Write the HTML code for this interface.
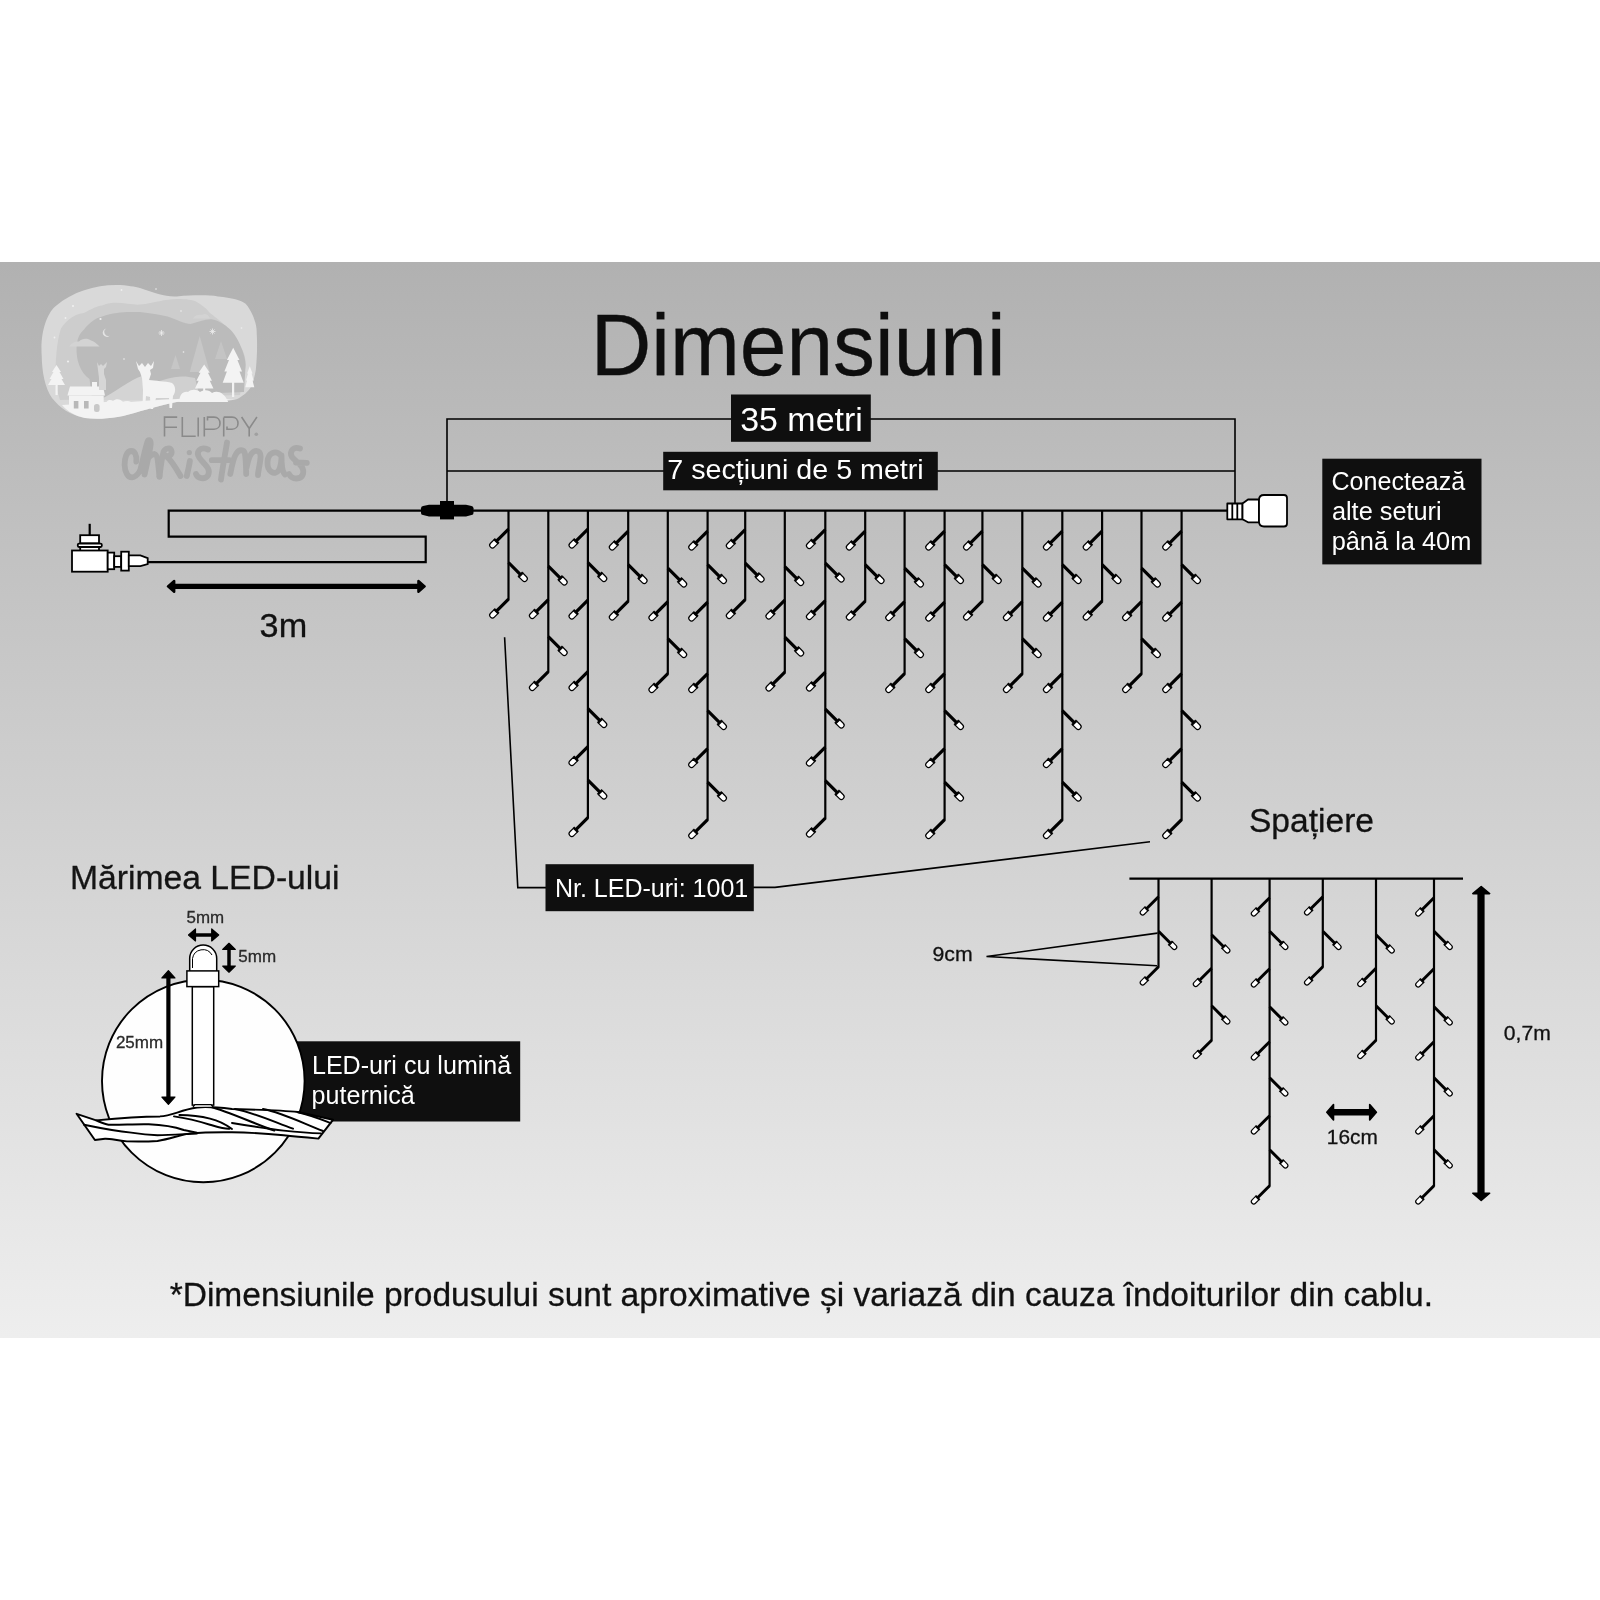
<!DOCTYPE html>
<html><head><meta charset="utf-8"><title>Dimensiuni</title>
<style>
html,body{margin:0;padding:0;background:#fff;width:1600px;height:1600px;overflow:hidden}
svg{display:block;filter:grayscale(1)}
text{font-family:"Liberation Sans",sans-serif}
.w{stroke:#000;stroke-width:2.2;fill:none}
.t{stroke:#000;stroke-width:1.6;fill:none}
</style></head><body>
<svg width="1600" height="1600" viewBox="0 0 1600 1600">
<defs>
<linearGradient id="bg" x1="0" y1="0" x2="0" y2="1">
<stop offset="0" stop-color="#b1b1b1"/><stop offset="1" stop-color="#eeeeee"/>
</linearGradient>
<g id="led">
<line x1="0" y1="0" x2="17" y2="0" stroke="#000" stroke-width="3.2"/>
<rect x="16" y="-3.3" width="2.1" height="6.6" fill="#000"/>
<path d="M17.8,-2.75 H22.7 A2.75,2.75 0 0 1 22.7,2.75 H17.8 Z" fill="#fff" stroke="#000" stroke-width="1.2"/>
</g>
<g id="led2">
<line x1="0" y1="0" x2="17" y2="0" stroke="#000" stroke-width="3"/>
<rect x="16" y="-3" width="2" height="6" fill="#000"/>
<path d="M17.6,-2.4 H22.4 A2.4,2.4 0 0 1 22.4,2.4 H17.6 Z" fill="#fff" stroke="#000" stroke-width="1.15"/>
</g>
</defs>
<rect x="0" y="262" width="1600" height="1076" fill="url(#bg)"/>

<g id="logo">
<path d="M41.7,356 C40,330 48,312 56.4,305.6 C72,292 95,285 116,285 C128,285 135,287 140,288 C155,293 165,297 176.7,296.4 C195,295 208,295 218,296.4 C232,298 241,300 245.6,303.7 C253,312 257,325 256.7,333 C257.5,345 257,358 255.8,369.9 C254,380 252,385 250.2,388.2 C246,394 241,397 236.5,399.3 L227.3,401 C210,401.5 190,401.5 176.7,402 C160,405 150,409 140,411.2 C120,418 100,420 85,418 C70,415 60,408 52,398 C45,388 42,372 41.7,356 Z" fill="#d9d9d9"/>
<path d="M55.5,385 C55,360 57,340 61,328.5 C68,318 76,314 84,313 C92,309 97,306 102,305.6 C108,303 112,302.8 116,302.8 C125,303 133,305 140,304.6 C155,303 165,299 176.7,299 C187,299 192,300 195,301 C201,304 206,308 209,312 C215,318 230,325 241,347 C245,355 246,360 245.6,365.3 L240,395 L60,400 Z" fill="#cdcdcd"/>
<path d="M89.5,379 C80,372 76,360 76.6,347 C77,338 80,333 84,329.5 C90,322 96,318 102.3,316.6 C112,313 122,312 130,312 C135,312 138,312 140,312 C150,313 160,315 167.6,316.6 C177,320 185,324 190.5,324 C198,322 205,319 211.7,319.3 C220,321 227,326 231.9,331.3 C236,336 239,342 241,347 C244,354 245.5,360 245.6,365.3 L244,392 L92,398 Z" fill="#bbbbbb"/>
<path d="M69,346.5 C72,342 76,341 79,341.5 C82,338 88,338 91,340.5 C94,341 96,343 99.6,346.5 Z" fill="#d3d3d3"/>
<path d="M193,318.4 C195,315 199,314.5 202,315 C205,313 208,314 210,318.4 Z" fill="#d3d3d3"/>
<path d="M199.7,336 L209.7,372 L189.7,372 Z" fill="#c7c7c7"/>
<path d="M221,341 L227.0,359 L215.0,359 Z" fill="#c4c4c4"/>
<path d="M175.5,355 L180.0,369 L171.0,369 Z" fill="#c6c6c6"/>
<path d="M100,400 C115,392 130,380 142,376 L150,400 Z" fill="#d4d4d4"/>
<path d="M150,385 C165,378 180,374 195,378 L200,398 L150,400 Z" fill="#d0d0d0"/>
<path d="M62,405 C90,403 110,401 130,402 C150,401 175,398 200,399 C215,399 228,399 236.5,399.3 C220,401 195,401 176.7,402 C160,405 150,409 140,411.2 C120,418 100,420 85,418 C75,416 67,411 62,405 Z" fill="#f3f3f3"/>
<path d="M56.5,365 L61,372 L59.5,372 L63.5,379 L61.5,379 L65,385 L48,385 L51.5,379 L49.5,379 L53.5,372 L52,372 Z" fill="#f3f3f3"/><rect x="55.5" y="384" width="2.2" height="11" fill="#f3f3f3"/>
<path d="M233.2,347.8 L239.5,360.05 L237.39999999999998,360.05 L242.01999999999998,371.6 L239.5,371.6 L243.7,382.8 L222.7,382.8 L226.89999999999998,371.6 L224.38,371.6 L229.0,360.05 L226.89999999999998,360.05 Z" fill="#f3f3f3"/>
<rect x="232" y="380" width="2.2" height="17" fill="#f3f3f3"/>
<path d="M204.2,364.4 L209.75,372.79999999999995 L207.89999999999998,372.79999999999995 L211.97,380.71999999999997 L209.75,380.71999999999997 L213.45,388.4 L194.95,388.4 L198.64999999999998,380.71999999999997 L196.42999999999998,380.71999999999997 L200.5,372.79999999999995 L198.64999999999998,372.79999999999995 Z" fill="#f3f3f3"/>
<rect x="203.2" y="386" width="2" height="10" fill="#f3f3f3"/>
<path d="M249.8,366.2 L252.5,373.55 L251.60000000000002,373.55 L253.58,380.48 L252.5,380.48 L254.3,387.2 L245.3,387.2 L247.10000000000002,380.48 L246.02,380.48 L248.0,373.55 L247.10000000000002,373.55 Z" fill="#f3f3f3"/>
<path d="M179.5,402 C179,395 183,391 188,392 C191,389 197,389 200,392 C204,389 210,390 212,393 C217,390 224,392 228.2,402 Z" fill="#f3f3f3"/>
<path d="M105,406 C106,400 110,399 113,401 C116,398 121,399 123,402 C127,400 132,401 134,405 Z" fill="#f3f3f3"/>
<path d="M67.4,395.6 L70,386.5 L103,386.5 L105,395.6 Z" fill="#f3f3f3"/><rect x="69" y="395.6" width="34.7" height="15.7" fill="#f3f3f3"/><rect x="92" y="382" width="5" height="5" fill="#f3f3f3"/>
<rect x="73.8" y="401" width="4.6" height="7.5" fill="#b8b8b8"/><rect x="84" y="401" width="4.6" height="7.5" fill="#b8b8b8"/><rect x="94" y="404" width="5.6" height="8" rx="2.5" fill="#c8c8c8"/>
<path d="M97,362 L99,366 L101,364 L103,366 L105,364 L107,362 L106,367 L104,369 L104,374 L106,380 L106,390 L99,390 L99,378 L98,370 Z" fill="#d6d6d6"/>
<path d="M136,361 L139,366 L142,363 L145,367 L148,363 L151,366 L154,361 L153,368 L150,370 L151,374 L149,380 C155,381 165,381 172,383 C176,386 176,392 173,396 L172,408 L169.5,408 L169,398 L156,398 L153,409 L150.5,409 L150,397 L146,396 L145,409 L142.5,409 L143,390 L142,378 L140,372 L138,369 Z" fill="#f3f3f3"/>
<path d="M106.5,328.5 a4.2,4.2 0 1 0 3.5,7 a3.4,3.4 0 1 1 -3.5,-7 Z" fill="#e4e4e4"/>
<circle cx="121.5" cy="290" r="0.9" fill="#efefef"/>
<circle cx="65.5" cy="318" r="0.9" fill="#efefef"/>
<circle cx="54.5" cy="337.5" r="0.9" fill="#efefef"/>
<circle cx="68" cy="361.5" r="1.1" fill="#efefef"/>
<circle cx="100.5" cy="319" r="1.1" fill="#efefef"/>
<circle cx="124" cy="359" r="0.8" fill="#efefef"/>
<circle cx="181" cy="311" r="0.8" fill="#efefef"/>
<circle cx="241.5" cy="328" r="0.8" fill="#efefef"/>
<circle cx="183.5" cy="352" r="0.8" fill="#efefef"/>
<circle cx="156" cy="289" r="0.8" fill="#efefef"/>
<circle cx="73" cy="306" r="1.1" fill="#efefef"/>
<path d="M158.5,333 H164.5 M161.5,330 V336 M159.5,331 L163.5,335 M159.5,335 L163.5,331" stroke="#ececec" stroke-width="0.8"/>
<path d="M209.5,331.5 H215.5 M212.5,328.5 V334.5 M210.5,329.5 L214.5,333.5 M210.5,333.5 L214.5,329.5" stroke="#ececec" stroke-width="0.8"/>
</g>
<g stroke="#8a8a8a" stroke-width="1.6" fill="none">
<path d="M164.5,436.5 V417.1 H177.2 M164.5,427.3 H177"/>
<path d="M182.3,417 V436.2 H195.7"/>
<path d="M198.2,417.4 V436.5"/>
<path d="M204.3,417 V436.5 M207.5,420.5 V417.1 H214 C222,417.1 222,429.2 214,429.2 H204.5"/>
<path d="M223.7,417.4 V436.5 M227,426.5 V429.2 H232 C240,429.2 240,417.1 232,417.1 H223.7"/>
<path d="M241.6,417 L249.2,428.5 L256.9,417 M249.2,428.5 V436.5"/>
</g><circle cx="256.3" cy="434.3" r="1.8" fill="#a0a0a0"/>
<g stroke="#a9a9a9" stroke-width="5.8" fill="none" stroke-linecap="round" stroke-linejoin="round">
<path d="M136.3,461.5 C137,455 134.5,450.8 131,451 C126.5,451.5 124.5,458 124.6,465 C124.8,472 128,477.6 132.2,477.4 C135.5,477.2 138,474 140,471"/>
<path d="M140,471 C142.5,462 145,449 147.6,441.5 C148.8,438.8 151.2,440 150.6,445 C149.8,452 147,463 144.6,474.5 M145.4,463 C148,457.5 151,454 154.6,454 C157.8,454.5 158.2,465 159.5,476.5"/>
<path d="M159.5,476.5 C160.5,468 161.5,459 163.5,452 C165,448 170.5,447 171.5,451 C172.3,455 168,457.5 165.5,455.5 C170,459 176,468 180.5,476"/>
<path d="M189.9,461 C189,467 187.5,472 186.8,476"/>
<path d="M208,449.5 C200,446 195.5,452 199.5,458 C203.5,464 211.5,468 208,475.5 C204.5,480 197.5,478.5 196,474"/>
<path d="M227,442.5 C225,455 222.5,468 221,479.5 M211.8,460.2 H229.5"/>
<path d="M230.3,474 C232,465 234,457 236,454 C239,449 244,449 245,454 C246,460 246,468 246.2,474 M246.5,468 C248,460 251,452 255,451 C259,450 261,453 260.5,458 C260,465 258,471 258,475"/>
<path d="M281,455.5 C276,450 268,452 267.5,462 C267,472 275,476 279,470 C281,466 281.5,458 281.5,455.5 C281.5,465 282,472 285,474.5"/>
<path d="M300,448.5 C293,446 289,452 292,457 C296,462 305,466 303,474 C301,480 292,480 289,474 M296,462.5 L306.8,462.8"/>
</g>
<circle cx="189.3" cy="452.6" r="2.6" fill="#a9a9a9"/>
<text x="590.82" y="374.80" font-size="87" textLength="414.73" lengthAdjust="spacingAndGlyphs" fill="#0e0e0e" stroke="#0e0e0e" stroke-width="0.3">Dimensiuni</text>
<path d="M447,510 V419 H1235 V503" class="t" stroke-width="2.2"/>
<path d="M447,471 H1235" class="t" stroke-width="2.2"/>
<rect x="731" y="394.5" width="139.8" height="47.3" fill="#0f0f11"/>
<text x="740.21" y="430.50" font-size="34" textLength="122.58" lengthAdjust="spacingAndGlyphs" fill="#fff">35 metri</text>
<rect x="663.2" y="451.8" width="274.6" height="38.5" fill="#0f0f11"/>
<text x="667.28" y="479.00" font-size="28.5" textLength="256.45" lengthAdjust="spacingAndGlyphs" fill="#fff">7 secțiuni de 5 metri</text>
<path d="M1228,510.6 H168.7 V536.7 H425.7 V562.2 H147" class="w"/>
<path d="M421,508.3 Q421,506.6 423,506.1 L429,504.8 H466 L471.5,506.1 Q473.5,506.6 473.5,508.3 V512.9 Q473.5,514.6 471.5,515.1 L466,516.4 H429 L423,515.1 Q421,514.6 421,512.9 Z" fill="#000"/>
<rect x="440" y="501" width="14" height="18.4" fill="#000"/>
<g fill="#fff" stroke="#000" stroke-width="1.8" stroke-linejoin="miter">
<line x1="89.7" y1="523.8" x2="89.7" y2="535.5" stroke-width="2.2"/>
<rect x="80.2" y="535.2" width="18.8" height="8.1"/>
<rect x="80.2" y="546.5" width="18.8" height="4.5"/>
<rect x="77.8" y="543.6" width="24" height="3.4" rx="1.2"/>
<rect x="72" y="550.5" width="35.7" height="21.2"/>
<rect x="107.7" y="552.6" width="6.5" height="16.6"/>
<rect x="114.2" y="556.2" width="7" height="10.7"/>
<rect x="121.2" y="551.7" width="7.6" height="18.9"/>
<path d="M128.8,555.4 H140.4 L147.7,558.2 V564.1 L140.4,566.1 H128.8 Z"/>
</g>
<path d="M174,586.4 H418" stroke="#000" stroke-width="5.2"/>
<path d="M168,586.4 L174.2,581 L174.2,591.8 Z M424.6,586.4 L418.4,581 L418.4,591.8 Z" fill="#000" stroke="#000" stroke-width="2.4" stroke-linejoin="round"/>
<text x="259.60" y="636.70" font-size="34" textLength="47.56" lengthAdjust="spacingAndGlyphs" fill="#111" stroke="#111" stroke-width="0.3">3m</text>
<g fill="#fff" stroke="#000" stroke-width="1.8" stroke-linejoin="round">
<rect x="1227.3" y="503.5" width="15.2" height="15.8"/>
<line x1="1232.3" y1="503.5" x2="1232.3" y2="519.3"/><line x1="1237.3" y1="503.5" x2="1237.3" y2="519.3"/>
<path d="M1242.5,503.5 L1248,499.5 H1259 V522.3 H1248 L1242.5,519.3 Z"/>
<path d="M1264,495 H1284 Q1287,495 1287,498 V523.5 Q1287,526.5 1284,526.5 H1264 Q1259,526.5 1259,521.5 V500 Q1259,495 1264,495 Z"/>
</g>
<rect x="1322.3" y="458.7" width="159.2" height="105.7" fill="#0f0f11"/>
<text x="1331.48" y="490.00" font-size="25.3" textLength="133.82" lengthAdjust="spacingAndGlyphs" fill="#fff">Conectează</text>
<text x="1331.92" y="520.00" font-size="25.3" textLength="109.78" lengthAdjust="spacingAndGlyphs" fill="#fff">alte seturi</text>
<text x="1331.67" y="550.10" font-size="25.3" textLength="139.61" lengthAdjust="spacingAndGlyphs" fill="#fff">până la 40m</text>
<line x1="508.50" y1="510.60" x2="508.50" y2="599.90" class="w"/>
<use href="#led" transform="translate(508.50,529.10) rotate(135)"/>
<use href="#led" transform="translate(508.50,562.60) rotate(45)"/>
<use href="#led" transform="translate(508.50,599.10) rotate(135)"/>
<line x1="548.30" y1="510.60" x2="548.30" y2="672.40" class="w"/>
<use href="#led" transform="translate(548.30,566.10) rotate(45)"/>
<use href="#led" transform="translate(548.30,599.60) rotate(135)"/>
<use href="#led" transform="translate(548.30,636.60) rotate(45)"/>
<use href="#led" transform="translate(548.30,671.60) rotate(135)"/>
<line x1="587.90" y1="510.60" x2="587.90" y2="818.40" class="w"/>
<use href="#led" transform="translate(587.90,529.10) rotate(135)"/>
<use href="#led" transform="translate(587.90,562.60) rotate(45)"/>
<use href="#led" transform="translate(587.90,600.10) rotate(135)"/>
<use href="#led" transform="translate(587.90,671.60) rotate(135)"/>
<use href="#led" transform="translate(587.90,708.60) rotate(45)"/>
<use href="#led" transform="translate(587.90,746.60) rotate(135)"/>
<use href="#led" transform="translate(587.90,780.10) rotate(45)"/>
<use href="#led" transform="translate(587.90,817.60) rotate(135)"/>
<line x1="628.20" y1="510.60" x2="628.20" y2="601.90" class="w"/>
<use href="#led" transform="translate(628.20,531.10) rotate(135)"/>
<use href="#led" transform="translate(628.20,564.60) rotate(45)"/>
<use href="#led" transform="translate(628.20,601.10) rotate(135)"/>
<line x1="667.80" y1="510.60" x2="667.80" y2="674.40" class="w"/>
<use href="#led" transform="translate(667.80,568.10) rotate(45)"/>
<use href="#led" transform="translate(667.80,601.60) rotate(135)"/>
<use href="#led" transform="translate(667.80,638.60) rotate(45)"/>
<use href="#led" transform="translate(667.80,673.60) rotate(135)"/>
<line x1="707.60" y1="510.60" x2="707.60" y2="820.40" class="w"/>
<use href="#led" transform="translate(707.60,531.10) rotate(135)"/>
<use href="#led" transform="translate(707.60,564.60) rotate(45)"/>
<use href="#led" transform="translate(707.60,602.10) rotate(135)"/>
<use href="#led" transform="translate(707.60,673.60) rotate(135)"/>
<use href="#led" transform="translate(707.60,710.60) rotate(45)"/>
<use href="#led" transform="translate(707.60,748.60) rotate(135)"/>
<use href="#led" transform="translate(707.60,782.10) rotate(45)"/>
<use href="#led" transform="translate(707.60,819.60) rotate(135)"/>
<line x1="745.20" y1="510.60" x2="745.20" y2="600.40" class="w"/>
<use href="#led" transform="translate(745.20,529.60) rotate(135)"/>
<use href="#led" transform="translate(745.20,563.10) rotate(45)"/>
<use href="#led" transform="translate(745.20,599.60) rotate(135)"/>
<line x1="784.80" y1="510.60" x2="784.80" y2="672.90" class="w"/>
<use href="#led" transform="translate(784.80,566.60) rotate(45)"/>
<use href="#led" transform="translate(784.80,600.10) rotate(135)"/>
<use href="#led" transform="translate(784.80,637.10) rotate(45)"/>
<use href="#led" transform="translate(784.80,672.10) rotate(135)"/>
<line x1="825.30" y1="510.60" x2="825.30" y2="818.90" class="w"/>
<use href="#led" transform="translate(825.30,529.60) rotate(135)"/>
<use href="#led" transform="translate(825.30,563.10) rotate(45)"/>
<use href="#led" transform="translate(825.30,600.60) rotate(135)"/>
<use href="#led" transform="translate(825.30,672.10) rotate(135)"/>
<use href="#led" transform="translate(825.30,709.10) rotate(45)"/>
<use href="#led" transform="translate(825.30,747.10) rotate(135)"/>
<use href="#led" transform="translate(825.30,780.60) rotate(45)"/>
<use href="#led" transform="translate(825.30,818.10) rotate(135)"/>
<line x1="865.20" y1="510.60" x2="865.20" y2="601.90" class="w"/>
<use href="#led" transform="translate(865.20,531.10) rotate(135)"/>
<use href="#led" transform="translate(865.20,564.60) rotate(45)"/>
<use href="#led" transform="translate(865.20,601.10) rotate(135)"/>
<line x1="904.60" y1="510.60" x2="904.60" y2="674.40" class="w"/>
<use href="#led" transform="translate(904.60,568.10) rotate(45)"/>
<use href="#led" transform="translate(904.60,601.60) rotate(135)"/>
<use href="#led" transform="translate(904.60,638.60) rotate(45)"/>
<use href="#led" transform="translate(904.60,673.60) rotate(135)"/>
<line x1="944.60" y1="510.60" x2="944.60" y2="820.40" class="w"/>
<use href="#led" transform="translate(944.60,531.10) rotate(135)"/>
<use href="#led" transform="translate(944.60,564.60) rotate(45)"/>
<use href="#led" transform="translate(944.60,602.10) rotate(135)"/>
<use href="#led" transform="translate(944.60,673.60) rotate(135)"/>
<use href="#led" transform="translate(944.60,710.60) rotate(45)"/>
<use href="#led" transform="translate(944.60,748.60) rotate(135)"/>
<use href="#led" transform="translate(944.60,782.10) rotate(45)"/>
<use href="#led" transform="translate(944.60,819.60) rotate(135)"/>
<line x1="982.40" y1="510.60" x2="982.40" y2="601.90" class="w"/>
<use href="#led" transform="translate(982.40,531.10) rotate(135)"/>
<use href="#led" transform="translate(982.40,564.60) rotate(45)"/>
<use href="#led" transform="translate(982.40,601.10) rotate(135)"/>
<line x1="1022.30" y1="510.60" x2="1022.30" y2="674.40" class="w"/>
<use href="#led" transform="translate(1022.30,568.10) rotate(45)"/>
<use href="#led" transform="translate(1022.30,601.60) rotate(135)"/>
<use href="#led" transform="translate(1022.30,638.60) rotate(45)"/>
<use href="#led" transform="translate(1022.30,673.60) rotate(135)"/>
<line x1="1062.30" y1="510.60" x2="1062.30" y2="820.40" class="w"/>
<use href="#led" transform="translate(1062.30,531.10) rotate(135)"/>
<use href="#led" transform="translate(1062.30,564.60) rotate(45)"/>
<use href="#led" transform="translate(1062.30,602.10) rotate(135)"/>
<use href="#led" transform="translate(1062.30,673.60) rotate(135)"/>
<use href="#led" transform="translate(1062.30,710.60) rotate(45)"/>
<use href="#led" transform="translate(1062.30,748.60) rotate(135)"/>
<use href="#led" transform="translate(1062.30,782.10) rotate(45)"/>
<use href="#led" transform="translate(1062.30,819.60) rotate(135)"/>
<line x1="1102.10" y1="510.60" x2="1102.10" y2="601.90" class="w"/>
<use href="#led" transform="translate(1102.10,531.10) rotate(135)"/>
<use href="#led" transform="translate(1102.10,564.60) rotate(45)"/>
<use href="#led" transform="translate(1102.10,601.10) rotate(135)"/>
<line x1="1141.50" y1="510.60" x2="1141.50" y2="674.40" class="w"/>
<use href="#led" transform="translate(1141.50,568.10) rotate(45)"/>
<use href="#led" transform="translate(1141.50,601.60) rotate(135)"/>
<use href="#led" transform="translate(1141.50,638.60) rotate(45)"/>
<use href="#led" transform="translate(1141.50,673.60) rotate(135)"/>
<line x1="1181.60" y1="510.60" x2="1181.60" y2="820.40" class="w"/>
<use href="#led" transform="translate(1181.60,531.10) rotate(135)"/>
<use href="#led" transform="translate(1181.60,564.60) rotate(45)"/>
<use href="#led" transform="translate(1181.60,602.10) rotate(135)"/>
<use href="#led" transform="translate(1181.60,673.60) rotate(135)"/>
<use href="#led" transform="translate(1181.60,710.60) rotate(45)"/>
<use href="#led" transform="translate(1181.60,748.60) rotate(135)"/>
<use href="#led" transform="translate(1181.60,782.10) rotate(45)"/>
<use href="#led" transform="translate(1181.60,819.60) rotate(135)"/>
<path d="M504.6,637.2 L517.8,887.6 H546 M753 887.4 H775 L1150,841.8" class="t" stroke-width="1.6"/>
<rect x="545.5" y="864.2" width="208.3" height="47" fill="#0f0f11"/>
<text x="554.96" y="896.75" font-size="25" textLength="193.25" lengthAdjust="spacingAndGlyphs" fill="#fff">Nr. LED-uri: 1001</text>
<text x="1248.98" y="832.40" font-size="33.5" textLength="125.02" lengthAdjust="spacingAndGlyphs" fill="#111" stroke="#111" stroke-width="0.3">Spațiere</text>
<path d="M1129.4,878.7 H1463" class="w" stroke-width="2.4"/>
<line x1="1158.50" y1="878.70" x2="1158.50" y2="967.50" class="w"/>
<use href="#led2" transform="translate(1158.50,896.70) rotate(135)"/>
<use href="#led2" transform="translate(1158.50,931.20) rotate(45)"/>
<use href="#led2" transform="translate(1158.50,966.70) rotate(135)"/>
<line x1="1211.60" y1="878.70" x2="1211.60" y2="1041.00" class="w"/>
<use href="#led2" transform="translate(1211.60,934.70) rotate(45)"/>
<use href="#led2" transform="translate(1211.60,968.20) rotate(135)"/>
<use href="#led2" transform="translate(1211.60,1005.70) rotate(45)"/>
<use href="#led2" transform="translate(1211.60,1040.20) rotate(135)"/>
<line x1="1269.60" y1="878.70" x2="1269.60" y2="1186.50" class="w"/>
<use href="#led2" transform="translate(1269.60,897.70) rotate(135)"/>
<use href="#led2" transform="translate(1269.60,931.20) rotate(45)"/>
<use href="#led2" transform="translate(1269.60,968.70) rotate(135)"/>
<use href="#led2" transform="translate(1269.60,1006.70) rotate(45)"/>
<use href="#led2" transform="translate(1269.60,1041.70) rotate(135)"/>
<use href="#led2" transform="translate(1269.60,1077.70) rotate(45)"/>
<use href="#led2" transform="translate(1269.60,1115.70) rotate(135)"/>
<use href="#led2" transform="translate(1269.60,1149.70) rotate(45)"/>
<use href="#led2" transform="translate(1269.60,1185.70) rotate(135)"/>
<line x1="1322.80" y1="878.70" x2="1322.80" y2="967.50" class="w"/>
<use href="#led2" transform="translate(1322.80,896.70) rotate(135)"/>
<use href="#led2" transform="translate(1322.80,931.20) rotate(45)"/>
<use href="#led2" transform="translate(1322.80,966.70) rotate(135)"/>
<line x1="1376.00" y1="878.70" x2="1376.00" y2="1041.00" class="w"/>
<use href="#led2" transform="translate(1376.00,934.70) rotate(45)"/>
<use href="#led2" transform="translate(1376.00,968.20) rotate(135)"/>
<use href="#led2" transform="translate(1376.00,1005.70) rotate(45)"/>
<use href="#led2" transform="translate(1376.00,1040.20) rotate(135)"/>
<line x1="1434.00" y1="878.70" x2="1434.00" y2="1186.50" class="w"/>
<use href="#led2" transform="translate(1434.00,897.70) rotate(135)"/>
<use href="#led2" transform="translate(1434.00,931.20) rotate(45)"/>
<use href="#led2" transform="translate(1434.00,968.70) rotate(135)"/>
<use href="#led2" transform="translate(1434.00,1006.70) rotate(45)"/>
<use href="#led2" transform="translate(1434.00,1041.70) rotate(135)"/>
<use href="#led2" transform="translate(1434.00,1077.70) rotate(45)"/>
<use href="#led2" transform="translate(1434.00,1115.70) rotate(135)"/>
<use href="#led2" transform="translate(1434.00,1149.70) rotate(45)"/>
<use href="#led2" transform="translate(1434.00,1185.70) rotate(135)"/>
<path d="M1157.5,933.1 L986.5,956.5 L1157,965.7" class="t" stroke-width="1.5" stroke-linejoin="miter"/>
<text x="932.50" y="960.50" font-size="21" textLength="40.15" lengthAdjust="spacingAndGlyphs" fill="#111" stroke="#111" stroke-width="0.3">9cm</text>
<path d="M1481,893 V1193" stroke="#000" stroke-width="7.2"/>
<path d="M1481.2,886.5 L1489.6,893.6 L1472.8,893.6 Z M1481.2,1200.3 L1489.6,1193.2 L1472.8,1193.2 Z" fill="#000" stroke="#000" stroke-width="1.6" stroke-linejoin="round"/>
<text x="1503.87" y="1039.60" font-size="20.5" textLength="47.02" lengthAdjust="spacingAndGlyphs" fill="#111" stroke="#111" stroke-width="0.3">0,7m</text>
<path d="M1333,1112.3 H1370" stroke="#000" stroke-width="6.6"/>
<path d="M1326.8,1112.3 L1333.5,1104.6 L1333.5,1120 Z M1376.4,1112.3 L1369.7,1104.6 L1369.7,1120 Z" fill="#000" stroke="#000" stroke-width="1.6" stroke-linejoin="round"/>
<text x="1326.81" y="1144.00" font-size="20.5" textLength="50.96" lengthAdjust="spacingAndGlyphs" fill="#111" stroke="#111" stroke-width="0.3">16cm</text>
<text x="69.94" y="889.40" font-size="33.5" textLength="269.63" lengthAdjust="spacingAndGlyphs" fill="#151515" stroke="#151515" stroke-width="0.3">Mărimea LED-ului</text>
<rect x="290" y="1041.3" width="230.2" height="80.2" fill="#0f0f11"/>
<text x="311.94" y="1073.50" font-size="25" textLength="199.31" lengthAdjust="spacingAndGlyphs" fill="#fff">LED-uri cu lumină</text>
<text x="311.63" y="1103.50" font-size="25" textLength="103.17" lengthAdjust="spacingAndGlyphs" fill="#fff">puternică</text>
<circle cx="203.3" cy="1081" r="101.3" fill="#fefefe" stroke="#000" stroke-width="1.9"/>
<g fill="#fff" stroke="#000" stroke-width="1.5">
<rect x="192.3" y="986.6" width="21.4" height="118.5"/>
<path d="M189.7,971 V958.5 A13.5,13.5 0 0 1 216.7,958.5 V971"/>
<rect x="186.9" y="970.9" width="31.8" height="15.7"/>
<path d="M192.5,968 V958.5 A10.5,10.5 0 0 1 212,955" stroke-width="1"/>
</g>
<path d="M193.5,935 H213.5" stroke="#000" stroke-width="3.5"/>
<path d="M188.5,935 L195.5,929 V941 Z M218.7,935 L211.7,929 V941 Z" fill="#000" stroke="#000" stroke-width="1.2" stroke-linejoin="round"/>
<path d="M229,948 V967.5" stroke="#000" stroke-width="3.5"/>
<path d="M229,943.3 L235.3,949.5 H222.7 Z M229,972.2 L235.3,966 H222.7 Z" fill="#000" stroke="#000" stroke-width="1.2" stroke-linejoin="round"/>
<path d="M168.4,977 V1098" stroke="#000" stroke-width="4.2"/>
<path d="M168.4,970.7 L174.9,978 H161.9 Z M168.4,1104.4 L174.9,1097 H161.9 Z" fill="#000" stroke="#000" stroke-width="1.2" stroke-linejoin="round"/>
<text x="186.52" y="922.90" font-size="17" textLength="37.59" lengthAdjust="spacingAndGlyphs" fill="#2a2a2a" stroke="#2a2a2a" stroke-width="0.3">5mm</text>
<text x="238.32" y="961.70" font-size="17" textLength="37.80" lengthAdjust="spacingAndGlyphs" fill="#2a2a2a" stroke="#2a2a2a" stroke-width="0.3">5mm</text>
<text x="115.90" y="1047.75" font-size="17" textLength="47.23" lengthAdjust="spacingAndGlyphs" fill="#2a2a2a" stroke="#2a2a2a" stroke-width="0.3">25mm</text>
<g fill="#fff" stroke="#000" stroke-width="1.95" stroke-linejoin="round" stroke-linecap="round">
<path d="M76.6,1113.8 L96.2,1120.4 C120,1118 140,1116.5 160,1116.4 C172,1116 180,1110 197,1107.5 C205,1106.5 215,1107 232,1109 C250,1109.5 280,1110 297.8,1112 L333,1119.8 L318.4,1138.6 C300,1137 290,1136 283.7,1135.3 C265,1133.5 250,1132.5 232,1132.2 C215,1132 200,1132.5 190,1133.4 C180,1135 170,1139 157.5,1141 C145,1141.8 135,1141.6 126.9,1141.4 C115,1140 110,1138.5 105,1138.7 L94.9,1140 Z"/>
<path d="M96.2,1120.4 C100,1122 104,1124 108.5,1124.7 C120,1125 135,1124 148.7,1124.3 C165,1125 175,1127 183.7,1130 L196.9,1132.6" fill="none"/>
<path d="M84,1124.7 C100,1128 115,1131 131.2,1132.6 C140,1134 150,1135 157.5,1135.2 C170,1135 185,1134 196.9,1133.5" fill="none"/>
<path d="M174,1116.4 C185,1118 198,1121 210,1124.7 C218,1127 224,1129 229.4,1128.7" fill="none"/>
<path d="M179.4,1115 C190,1115 200,1116 210,1118.6 C220,1121 228,1126 232,1129" fill="none"/>
<path d="M208.7,1106.2 C230,1112 250,1122 274.3,1130.6" fill="none"/>
<path d="M235,1109 C255,1113 272,1121 293,1128.7" fill="none"/>
<path d="M263,1109 C283,1113 300,1122 323,1131" fill="none"/>
<path d="M297.8,1112.3 C310,1115 320,1119 330.6,1123" fill="none"/>
<path d="M232,1123 C250,1126 268,1129 283.7,1130.6 C297,1132 310,1133 321,1133.4" fill="none"/>
</g>
<path d="M193,1106.8 L195,1104.6 H211 L213,1106.8" fill="#fff" stroke="#000" stroke-width="1.3"/>
<text x="169.66" y="1305.50" font-size="34" textLength="1263.40" lengthAdjust="spacingAndGlyphs" fill="#111" stroke="#111" stroke-width="0.3">*Dimensiunile produsului sunt aproximative și variază din cauza îndoiturilor din cablu.</text>
</svg></body></html>
